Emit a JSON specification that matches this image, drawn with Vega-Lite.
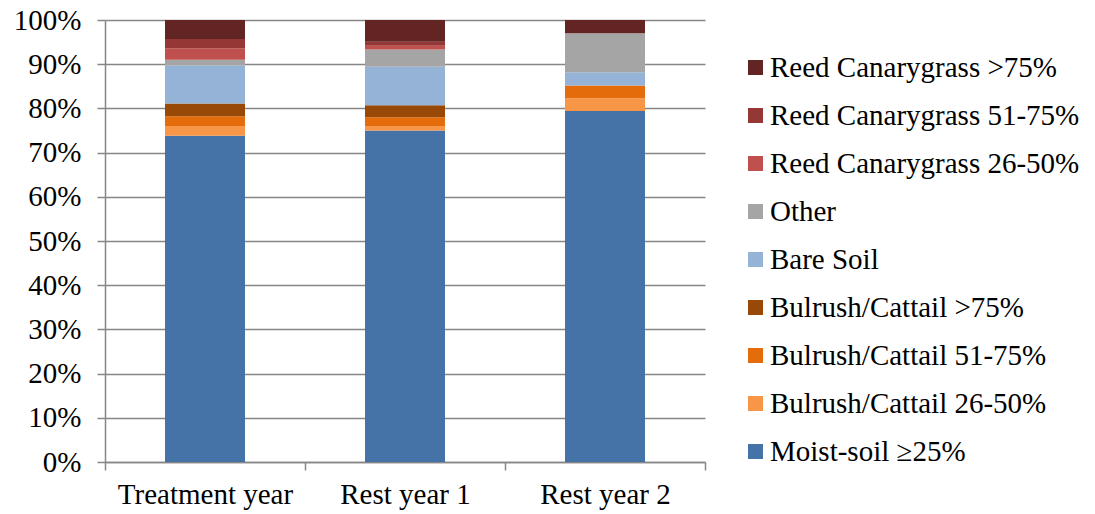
{
  "$schema": "https://vega.github.io/schema/vega-lite/v6.json",
  "width": 600,
  "height": 442,
  "autosize": {"type": "none"},
  "padding": {"left": 105, "top": 20, "right": 390, "bottom": 52},
  "background": "white",
  "config": {
    "font": "Liberation Serif",
    "view": {"stroke": null},
    "axis": {
      "domainColor": "#868686",
      "domainWidth": 1.5,
      "tickColor": "#868686",
      "tickWidth": 1.5,
      "tickSize": 8,
      "gridColor": "#868686",
      "gridWidth": 1.5,
      "labelColor": "#000000",
      "labelFont": "Liberation Serif",
      "labelFontSize": 29,
      "title": null
    },
    "legend": {
      "labelFont": "Liberation Serif",
      "padding": 0
    }
  },
  "data": {
    "values": [
      {"period": "Treatment year", "cover": "Moist-soil ≥25%", "pct": 73.8},
      {"period": "Treatment year", "cover": "Bulrush/Cattail 26-50%", "pct": 2.2},
      {"period": "Treatment year", "cover": "Bulrush/Cattail 51-75%", "pct": 2.2},
      {"period": "Treatment year", "cover": "Bulrush/Cattail >75%", "pct": 2.9},
      {"period": "Treatment year", "cover": "Bare Soil", "pct": 8.6},
      {"period": "Treatment year", "cover": "Other", "pct": 1.3},
      {"period": "Treatment year", "cover": "Reed Canarygrass 26-50%", "pct": 2.6},
      {"period": "Treatment year", "cover": "Reed Canarygrass 51-75%", "pct": 2.1},
      {"period": "Treatment year", "cover": "Reed Canarygrass >75%", "pct": 4.3},
      {"period": "Rest year 1", "cover": "Moist-soil ≥25%", "pct": 75.0},
      {"period": "Rest year 1", "cover": "Bulrush/Cattail 26-50%", "pct": 1.0},
      {"period": "Rest year 1", "cover": "Bulrush/Cattail 51-75%", "pct": 2.0},
      {"period": "Rest year 1", "cover": "Bulrush/Cattail >75%", "pct": 2.7},
      {"period": "Rest year 1", "cover": "Bare Soil", "pct": 8.7},
      {"period": "Rest year 1", "cover": "Other", "pct": 3.9},
      {"period": "Rest year 1", "cover": "Reed Canarygrass 26-50%", "pct": 0.9},
      {"period": "Rest year 1", "cover": "Reed Canarygrass 51-75%", "pct": 0.9},
      {"period": "Rest year 1", "cover": "Reed Canarygrass >75%", "pct": 4.9},
      {"period": "Rest year 2", "cover": "Moist-soil ≥25%", "pct": 79.4},
      {"period": "Rest year 2", "cover": "Bulrush/Cattail 26-50%", "pct": 2.9},
      {"period": "Rest year 2", "cover": "Bulrush/Cattail 51-75%", "pct": 2.9},
      {"period": "Rest year 2", "cover": "Bulrush/Cattail >75%", "pct": 0},
      {"period": "Rest year 2", "cover": "Bare Soil", "pct": 3.0},
      {"period": "Rest year 2", "cover": "Other", "pct": 8.8},
      {"period": "Rest year 2", "cover": "Reed Canarygrass 26-50%", "pct": 0},
      {"period": "Rest year 2", "cover": "Reed Canarygrass 51-75%", "pct": 0},
      {"period": "Rest year 2", "cover": "Reed Canarygrass >75%", "pct": 3.0}
    ]
  },
  "transform": [
    {"window": [{"op": "row_number", "as": "layer"}], "groupby": ["period"]}
  ],
  "mark": {"type": "bar", "width": {"band": 0.4}},
  "encoding": {
    "x": {
      "field": "period",
      "type": "nominal",
      "sort": ["Treatment year", "Rest year 1", "Rest year 2"],
      "scale": {"paddingInner": 0, "paddingOuter": 0},
      "axis": {"labelAngle": 0, "tickBand": "extent", "labelPadding": 10, "grid": false, "labelFont": "Liberation Serif"}
    },
    "y": {
      "field": "pct",
      "type": "quantitative",
      "stack": "zero",
      "scale": {"domain": [0, 100], "nice": false},
      "axis": {
        "values": [0, 10, 20, 30, 40, 50, 60, 70, 80, 90, 100],
        "labelExpr": "datum.value + '%'",
        "labelPadding": 16,
        "labelFont": "Liberation Serif",
        "grid": true
      }
    },
    "order": {"field": "layer", "type": "quantitative", "sort": "ascending"},
    "color": {
      "field": "cover",
      "type": "nominal",
      "sort": [
        "Moist-soil ≥25%",
        "Bulrush/Cattail 26-50%",
        "Bulrush/Cattail 51-75%",
        "Bulrush/Cattail >75%",
        "Bare Soil",
        "Other",
        "Reed Canarygrass 26-50%",
        "Reed Canarygrass 51-75%",
        "Reed Canarygrass >75%"
      ],
      "scale": {
        "range": ["#4673A7", "#F79646", "#E46C0A", "#984807", "#95B3D7", "#A5A5A5", "#C0504D", "#953735", "#632523"]
      },
      "legend": {
        "orient": "none",
        "legendX": 636,
        "legendY": 33,
        "title": null,
        "values": [
          "Reed Canarygrass >75%",
          "Reed Canarygrass 51-75%",
          "Reed Canarygrass 26-50%",
          "Other",
          "Bare Soil",
          "Bulrush/Cattail >75%",
          "Bulrush/Cattail 51-75%",
          "Bulrush/Cattail 26-50%",
          "Moist-soil ≥25%"
        ],
        "symbolType": "square",
        "symbolSize": 225,
        "symbolStrokeWidth": 0,
        "symbolOpacity": 1,
        "labelFont": "Liberation Serif",
        "labelFontSize": 29,
        "labelColor": "#000000",
        "labelOffset": 0,
        "labelLimit": 400,
        "rowPadding": 18
      }
    }
  }
}
